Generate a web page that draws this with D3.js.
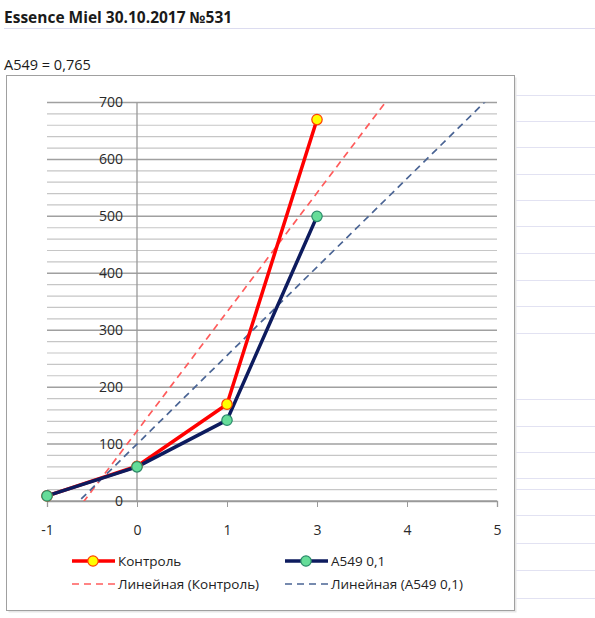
<!DOCTYPE html>
<html><head><meta charset="utf-8">
<script src="https://cdn.jsdelivr.net/npm/d3@7/dist/d3.min.js"></script>
<style>body{margin:0;background:#fff}svg{display:block}</style>
</head><body>
<script>
const categories = ["-1", "0", "1", "3", "4", "5"];
const controlValues = [9, 61, 170, 670];
const a549Values = [9, 60, 142, 500];
const yTicks = [0, 100, 200, 300, 400, 500, 600, 700];
const seriesNames = ["Контроль", "A549 0,1"];
const trendNames = ["Линейная (Контроль)", "Линейная (A549 0,1)"];
const titleText = "Essence Miel 30.10.2017 №531";
const subtitleText = "A549 = 0,765";

const W = 595, H = 618;
const svg = d3.select("body").append("svg").attr("width", W).attr("height", H);
const font = "'Open Sans', 'Noto Sans', sans-serif";

// spreadsheet background lines
[28].forEach(y => svg.append("line").attr("x1", 4).attr("x2", W).attr("y1", y+0.5).attr("y2", y+0.5).attr("stroke", "#dcdcf0").attr("stroke-width", 1));
[95, 121, 147, 174, 200, 226, 253, 280, 306, 333, 399, 426, 452, 478, 489, 515, 543, 570, 598]
  .forEach(y => svg.append("line").attr("x1", 516).attr("x2", W).attr("y1", y+0.5).attr("y2", y+0.5).attr("stroke", "#e2e2f2").attr("stroke-width", 1));

svg.append("text").attr("x", 4).attr("y", 23).attr("font-family", font).attr("font-weight", "bold")
  .attr("font-size", 15.5).attr("fill", "#1a1a1a").text(titleText);
svg.append("text").attr("x", 4).attr("y", 70).attr("font-family", font)
  .attr("font-size", 14.5).attr("fill", "#1a1a1a").text(subtitleText);

// chart box with shadow
svg.append("rect").attr("x", 8.5).attr("y", 77.5).attr("width", 508).attr("height", 535).attr("fill", "#e6e6e6");
svg.append("rect").attr("x", 6.5).attr("y", 75.5).attr("width", 508).attr("height", 535).attr("fill", "#fff").attr("stroke", "#a0a0a0");

const x = d3.scaleLinear().domain([0, categories.length - 1]).range([47, 497]);
const y = d3.scaleLinear().domain([0, 700]).range([501, 102.5]);

const g = svg.append("g");
// gridlines
d3.range(0, 701, 20).forEach(v => {
  const major = v % 100 === 0;
  g.append("line").attr("x1", x(0)).attr("x2", x(5)).attr("y1", y(v)).attr("y2", y(v))
    .attr("stroke", major ? "#a0a0a0" : "#c6c6c6").attr("stroke-width", major ? 1.5 : 1.2);
});
// y axis at category "0"
g.append("line").attr("x1", x(1)).attr("x2", x(1)).attr("y1", y(700)).attr("y2", y(0)).attr("stroke", "#999").attr("stroke-width", 1.3);
// x axis
const xAxis = d3.axisBottom(x).tickValues(d3.range(categories.length)).tickFormat(i => categories[i]).tickSize(6).tickPadding(18);
const xa = g.append("g").attr("transform", `translate(0,${y(0)})`).call(xAxis);
xa.select(".domain").attr("stroke", "#999").attr("stroke-width", 1.3);
xa.selectAll(".tick line").attr("stroke", "#999");
xa.selectAll("text").attr("font-family", font).attr("font-size", 14).attr("fill", "#2a2a2a");
// y labels
const yAxis = d3.axisLeft(y).tickValues(yTicks).tickSize(0).tickPadding(14);
const ya = g.append("g").attr("transform", `translate(${x(1)},0)`).call(yAxis);
ya.select(".domain").remove();
ya.selectAll("text").attr("font-family", font).attr("font-size", 14).attr("fill", "#2a2a2a");

// clip
svg.append("clipPath").attr("id", "clip").append("rect").attr("x", x(0)).attr("y", y(700)).attr("width", x(5) - x(0)).attr("height", y(0) - y(700));

function fit(vals) {
  const xs = vals.map((_, i) => i);
  const mx = d3.mean(xs), my = d3.mean(vals);
  let sxy = 0, sxx = 0;
  xs.forEach((xi, i) => { sxy += (xi - mx) * (vals[i] - my); sxx += (xi - mx) * (xi - mx); });
  const b = sxy / sxx; return i => my + b * (i - mx);
}
const trends = [
  {vals: controlValues, color: "#ff5c5c"},
  {vals: a549Values, color: "#4a6494"}
];
trends.forEach(t => {
  const f = fit(t.vals);
  g.append("line").attr("clip-path", "url(#clip)")
    .attr("x1", x(0)).attr("y1", y(f(0))).attr("x2", x(5)).attr("y2", y(f(5)))
    .attr("stroke", t.color).attr("stroke-width", 1.7).attr("stroke-dasharray", "7,5");
});

const line = d3.line().x((d, i) => x(i)).y(d => y(d));
const series = [
  {vals: controlValues, color: "#ff0000", fill: "#ffff00", mstroke: "#ff4000"},
  {vals: a549Values, color: "#0d1b5e", fill: "#66dd99", mstroke: "#2a8a6a"}
];
series.forEach(s => {
  g.append("path").datum(s.vals).attr("d", line).attr("fill", "none").attr("stroke", s.color).attr("stroke-width", 3.5).attr("stroke-linejoin", "round");
});
series.forEach(s => {
  g.selectAll(null).data(s.vals).enter().append("circle")
    .attr("cx", (d, i) => x(i)).attr("cy", d => y(d)).attr("r", 5.2)
    .attr("fill", s.fill).attr("stroke", s.mstroke).attr("stroke-width", 1.2);
});

// legend
const lg = svg.append("g");
const cols = [72, 285];
series.forEach((s, i) => {
  const lx = cols[i], ly = 561;
  lg.append("line").attr("x1", lx).attr("x2", lx + 43).attr("y1", ly).attr("y2", ly).attr("stroke", s.color).attr("stroke-width", 3.5);
  lg.append("circle").attr("cx", lx + 21).attr("cy", ly).attr("r", 5.2).attr("fill", s.fill).attr("stroke", s.mstroke).attr("stroke-width", 1.2);
  lg.append("text").attr("x", lx + 46).attr("y", ly + 5).attr("font-family", font).attr("font-size", 13.5).attr("fill", "#222").text(seriesNames[i]);
});
trends.forEach((t, i) => {
  const lx = cols[i], ly = 584;
  lg.append("line").attr("x1", lx).attr("x2", lx + 43).attr("y1", ly).attr("y2", ly).attr("stroke", t.color).attr("stroke-width", 1.7).attr("stroke-dasharray", "7,5");
  lg.append("text").attr("x", lx + 46).attr("y", ly + 5).attr("font-family", font).attr("font-size", 13.5).attr("fill", "#222").text(trendNames[i]);
});
</script>
</body></html>
